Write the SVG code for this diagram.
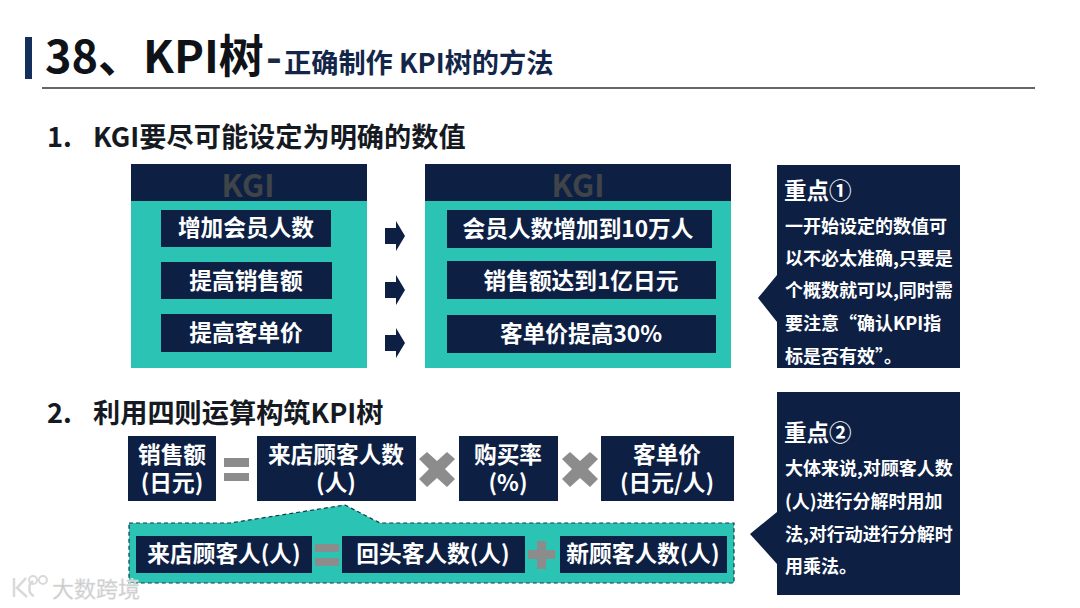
<svg xmlns="http://www.w3.org/2000/svg" width="1080" height="608" viewBox="0 0 1080 608">
<style>
text{font-family:"Noto Sans CJK SC","Noto Sans",sans-serif;font-weight:700}
.n{fill:#0d2044}
.t{fill:#2bc4b4}
.w{fill:#fff;font-size:22.7px;text-anchor:middle}
.h{fill:#151a22;font-size:27.2px}
.k{fill:#3f4449;font-size:31px;text-anchor:middle}
.b{fill:#fff;font-size:18px}
.c{fill:#fff;font-size:22.5px}
.g{fill:#8c8c8c}
.a{fill:#0d2044}
</style>
<defs>
<path id="arrow" d="M-10-8H1V-15L10 0 1 15V8H-10Z"/>
<path id="times" d="M-18-11-10-18 0-9 10-18 18-11 8-1 18 9 10 17 0 8-10 17-18 9-8-1Z"/>
</defs>
<rect width="1080" height="608" fill="#fff"/>
<g id="title">
<rect x="25" y="37" width="7" height="42" fill="#13305c"/>
<text x="45" y="73" font-size="45" fill="#0f1216">38、KPI树</text>
<text x="266" y="73" font-size="43" fill="#1a2a44">-</text>
<text x="284" y="73" font-size="27.2" fill="#13264a">正确制作 KPI树的方法</text>
<rect x="42" y="87" width="993" height="2" fill="#666"/>
</g>
<g id="heading-1"><text x="47" y="147" class="h">1.</text><text x="93" y="147" class="h">KGI要尽可能设定为明确的数值</text></g>
<g id="kgi-left">
<rect x="131" y="164" width="236" height="204" class="t"/>
<rect x="131" y="164" width="236" height="37" class="n"/>
<text x="248" y="197" class="k">KGI</text>
<rect x="161" y="210" width="170" height="37" class="n"/><text x="246" y="236" class="w">增加会员人数</text>
<rect x="161" y="262" width="171" height="37" class="n"/><text x="246" y="289" class="w">提高销售额</text>
<rect x="161" y="314" width="171" height="38" class="n"/><text x="246" y="341" class="w">提高客单价</text>
</g>
<g id="connectors">
<use href="#arrow" x="395" y="236" class="a"/>
<use href="#arrow" x="395" y="290" class="a"/>
<use href="#arrow" x="395" y="343" class="a"/>
</g>
<g id="kgi-right">
<rect x="425" y="164" width="306" height="204" class="t"/>
<rect x="425" y="164" width="306" height="37" class="n"/>
<text x="578" y="197" class="k">KGI</text>
<rect x="447" y="210" width="265" height="38" class="n"/><text x="578" y="237" class="w">会员人数增加到10万人</text>
<rect x="447" y="261" width="269" height="38" class="n"/><text x="581" y="289" class="w">销售额达到1亿日元</text>
<rect x="447" y="315" width="269" height="38" class="n"/><text x="581" y="342" class="w">客单价提高30%</text>
</g>
<g id="callout-1">
<path d="M777 165H960V368H777V322L758 298 777 275Z" class="n"/>
<text x="784" y="199" class="c">重点①</text>
<text x="785" y="233" class="b">一开始设定的数值可</text>
<text x="785" y="265" class="b">以不必太准确,只要是</text>
<text x="785" y="297" class="b">个概数就可以,同时需</text>
<text x="785" y="330" class="b">要注意“确认KPI指</text>
<text x="785" y="363" class="b">标是否有效”。</text>
</g>
<g id="heading-2"><text x="47" y="423" class="h">2.</text><text x="93" y="423" class="h">利用四则运算构筑KPI树</text></g>
<g id="formula-1">
<rect x="128" y="436" width="88" height="65" class="n"/><text x="172" y="463" class="w">销售额</text><text x="172" y="491" class="w">(日元)</text>
<path d="M224 458H249V467H224ZM224 473H249V481H224Z" class="g"/>
<rect x="257" y="436" width="159" height="65" class="n"/><text x="336" y="463" class="w">来店顾客人数</text><text x="336" y="491" class="w">(人)</text>
<use href="#times" x="437" y="470" class="g"/>
<rect x="459" y="436" width="99" height="65" class="n"/><text x="508" y="463" class="w">购买率</text><text x="508" y="491" class="w">(%)</text>
<use href="#times" x="580" y="470" class="g"/>
<rect x="601" y="436" width="133" height="65" class="n"/><text x="667" y="463" class="w">客单价</text><text x="667" y="491" class="w">(日元/人)</text>
</g>
<g id="formula-2">
<path d="M129 523H230L345 505 380 523H734V583H129Z" class="t" stroke="#0e3a44" stroke-width="1.2" stroke-dasharray="4 3"/>
<rect x="136" y="536" width="176" height="37" class="n"/><text x="224" y="562" class="w">来店顾客人(人)</text>
<path d="M315 544H339V552H315ZM315 558H339V566H315Z" class="g"/>
<rect x="342" y="536" width="183" height="37" class="n"/><text x="433" y="562" class="w">回头客人数(人)</text>
<path d="M537 541H546V550H555V559H546V569H537V559H528V550H537Z" class="g"/>
<rect x="560" y="536" width="167" height="37" class="n"/><text x="643" y="562" class="w">新顾客人数(人)</text>
</g>
<g id="callout-2">
<path d="M777 392H960V595H777V564L750 534 777 512Z" class="n"/>
<text x="784" y="441" class="c">重点②</text>
<text x="785" y="475" class="b">大体来说,对顾客人数</text>
<text x="785" y="508" class="b">(人)进行分解时用加</text>
<text x="785" y="541" class="b">法,对行动进行分解时</text>
<text x="785" y="573" class="b">用乘法。</text>
</g>
<g id="watermark">
<path d="M14 578V597M26 578 17 588 27 597M33 581C28 584 28 594 34 596" fill="none" stroke="#d9d9d9" stroke-width="2.5"/>
<circle cx="33" cy="580" r="4" fill="none" stroke="#d9d9d9" stroke-width="2"/>
<circle cx="43" cy="580" r="4" fill="none" stroke="#d9d9d9" stroke-width="2"/>
<text x="52" y="597" font-size="22" style="font-weight:400" fill="#c8c8c8" stroke="#e4e4e4" stroke-width=".5">大数跨境</text>
</g>
</svg>
